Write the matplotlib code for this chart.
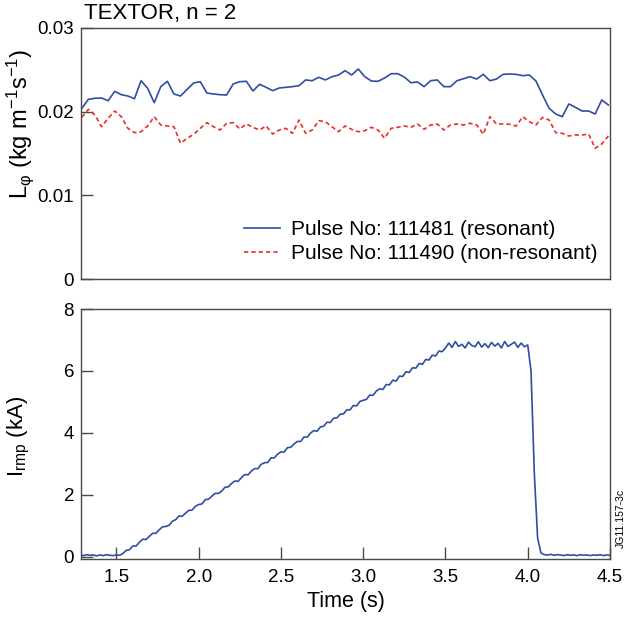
import numpy as np
import matplotlib
matplotlib.use('Agg')
import matplotlib.pyplot as plt

plt.rcParams['font.family'] = ['Liberation Sans', 'DejaVu Sans']
plt.rcParams['mathtext.fontset'] = 'custom'
plt.rcParams['mathtext.rm'] = 'Liberation Sans'
plt.rcParams['mathtext.it'] = 'Liberation Sans:italic'
plt.rcParams['mathtext.sf'] = 'Liberation Sans'

# ---------------- data ----------------
t_top = np.round(1.29 + 0.04 * np.arange(81), 2)

L_resonant = [
    0.0204, 0.02148, 0.0216, 0.02163, 0.02131, 0.02243, 0.02203, 0.02187, 0.02155, 0.0237,
    0.02279, 0.02107, 0.02299, 0.02363, 0.02211, 0.02187, 0.02267, 0.02343, 0.02358, 0.02223,
    0.02211, 0.02203, 0.02199, 0.02331, 0.02358, 0.02363, 0.02247, 0.02327, 0.02291, 0.02251,
    0.02283, 0.02291, 0.02299, 0.02311, 0.02379, 0.0237, 0.02411, 0.02379, 0.02418, 0.02438,
    0.0249, 0.02438, 0.0251, 0.02418, 0.02366, 0.02363, 0.02402, 0.02454, 0.02454, 0.02414,
    0.02346, 0.02355, 0.02299, 0.0237, 0.02379, 0.02299, 0.02299, 0.0237, 0.02394, 0.02418,
    0.0239, 0.02446, 0.0237, 0.0239, 0.02446, 0.0245, 0.02446, 0.0243, 0.02438, 0.02366,
    0.02199, 0.0204, 0.01972, 0.0194, 0.02092, 0.02052, 0.02008, 0.02008, 0.01972, 0.0214,
    0.0208,
]

L_nonresonant = [
    0.01932, 0.02028, 0.0196, 0.0182, 0.01921, 0.02008, 0.0194, 0.01801, 0.01749, 0.0176,
    0.01829, 0.0194, 0.01841, 0.01829, 0.0182, 0.01622, 0.01682, 0.01729, 0.01801, 0.01869,
    0.0182, 0.01781, 0.01861, 0.01869, 0.01793, 0.01853, 0.01813, 0.01781, 0.01829, 0.01733,
    0.01781, 0.01801, 0.01741, 0.019, 0.01741, 0.01781, 0.01892, 0.0188, 0.0182, 0.0176,
    0.01829, 0.01789, 0.0176, 0.01773, 0.01813, 0.01781, 0.01682, 0.01801, 0.01813, 0.01829,
    0.01813, 0.01853, 0.01789, 0.01841, 0.01853, 0.01781, 0.01841, 0.01853, 0.01841, 0.01861,
    0.01841, 0.01729, 0.0194, 0.01853, 0.01853, 0.01849, 0.01829, 0.0194, 0.0188, 0.01841,
    0.01932, 0.019, 0.01749, 0.01741, 0.01709, 0.01721, 0.01721, 0.01733, 0.01562, 0.01614,
    0.01709,
]

t_rmp = np.round(1.28 + 0.02 * np.arange(162), 2)

I_rmp = [
    # 1.28 - 1.52 baseline
    0.05, 0.03, 0.06, 0.04, 0.05, 0.02, 0.05, 0.03, 0.06, 0.04, 0.03, 0.05, 0.04,
    # 1.54 - 3.50 ramp
    0.10, 0.20, 0.22, 0.34, 0.34, 0.46, 0.56, 0.55, 0.65, 0.75,
    0.75, 0.86, 0.96, 0.97, 1.01, 1.14, 1.19, 1.31, 1.30, 1.40,
    1.49, 1.50, 1.62, 1.68, 1.70, 1.84, 1.85, 1.95, 2.04, 2.04,
    2.11, 2.24, 2.25, 2.36, 2.44, 2.43, 2.55, 2.65, 2.64, 2.76,
    2.84, 2.84, 2.98, 3.03, 3.04, 3.19, 3.19, 3.31, 3.38, 3.38,
    3.52, 3.53, 3.64, 3.72, 3.72, 3.86, 3.86, 3.99, 4.07, 4.05,
    4.19, 4.21, 4.34, 4.33, 4.47, 4.48, 4.60, 4.61, 4.74, 4.74,
    4.88, 4.87, 5.01, 5.05, 5.08, 5.22, 5.21, 5.35, 5.42, 5.40,
    5.56, 5.55, 5.70, 5.67, 5.83, 5.82, 5.97, 5.95, 6.10, 6.09,
    6.24, 6.21, 6.37, 6.35, 6.51, 6.48, 6.64, 6.62, 6.74,
    # 3.52 - 4.00 flat top
    6.90, 6.76, 6.95, 6.79, 6.86, 6.74, 6.93, 6.82, 6.78, 6.94,
    6.77, 6.88, 6.75, 6.92, 6.80, 6.89, 6.74, 6.95, 6.79, 6.86,
    6.93, 6.76, 6.90, 6.78, 6.84,
    # 4.02 - 4.10 switch-off
    6.00, 2.70, 0.60, 0.12, 0.06,
    # 4.12 - 4.50 baseline
    0.05, 0.07, 0.04, 0.06, 0.05, 0.03, 0.06, 0.04, 0.05, 0.03,
    0.06, 0.04, 0.05, 0.03, 0.05, 0.04, 0.06, 0.03, 0.05, 0.04,
]

top_yticks = [0, 0.01, 0.02, 0.03]
top_yticklabels = ['0', '0.01', '0.02', '0.03']
bot_yticks = [0, 2, 4, 6, 8]
xticks = [1.5, 2.0, 2.5, 3.0, 3.5, 4.0, 4.5]
xticklabels = ['1.5', '2.0', '2.5', '3.0', '3.5', '4.0', '4.5']

# ---------------- style ----------------
W, H = 627, 617
BLUE = '#2f4ea3'
RED = '#ee2a2a'
FRAME = '#4a4a4a'
FS = 15
TFS = 13.5

fig = plt.figure(figsize=(W / 100, H / 100), dpi=100)
ax1 = fig.add_axes([81 / W, 1 - 279 / H, 529 / W, 251 / H])
ax2 = fig.add_axes([81 / W, 1 - 559 / H, 529 / W, 250 / H])

for ax in (ax1, ax2):
    for s in ax.spines.values():
        s.set_color(FRAME)
        s.set_linewidth(1.0)
    ax.tick_params(direction='in', length=8.5, width=1.0, color=FRAME,
                   labelsize=TFS, top=False, right=False)
    ax.tick_params(axis='y', pad=5)
    ax.tick_params(axis='x', pad=7)
    ax.set_xlim(1.285, 4.5)
    ax.set_xticks(xticks)

# top panel
ax1.plot(t_top, L_resonant, color=BLUE, lw=1.2, label='Pulse No: 111481 (resonant)')
ax1.plot(t_top, L_nonresonant, color=RED, lw=1.2, dashes=(2.6, 1.8),
         label='Pulse No: 111490 (non-resonant)')
ax1.set_ylim(0, 0.03)
ax1.set_yticks(top_yticks)
ax1.set_yticklabels(top_yticklabels)
ax1.tick_params(axis='x', bottom=False, labelbottom=False)
leg = ax1.legend(loc='lower right', bbox_to_anchor=(1.006, 0.0), frameon=False,
                 fontsize=FS, handlelength=1.7, handletextpad=0.55, labelspacing=0.25,
                 borderaxespad=0.45, borderpad=0.3)

# bottom panel
ax2.plot(t_rmp, I_rmp, color=BLUE, lw=1.2)
ax2.set_ylim(-0.08, 8)
ax2.set_yticks(bot_yticks)
ax2.set_xticklabels(xticklabels)

# texts
fig.text(84 / W, 1 - 13 / H, 'TEXTOR, n = 2', ha='left', va='center', fontsize=16)
fig.text(20 / W, 1 - 124 / H, r'L$_{\mathrm{φ}}$ (kg m$^{-1}$s$^{-1}$)', rotation=90,
         ha='center', va='center', fontsize=17)
fig.text(19 / W, 1 - 436 / H, r'I$_{\rm rmp}$ (kA)', rotation=90,
         ha='center', va='center', fontsize=16)
fig.text(345.5 / W, 1 - 602 / H, 'Time (s)', ha='center', va='center', fontsize=15.5)
fig.text(620.5 / W, 1 - 548 / H, 'JG11.157-3c', rotation=90, ha='center', va='bottom',
         fontsize=7.5)

fig.savefig('out.png', dpi=100)
